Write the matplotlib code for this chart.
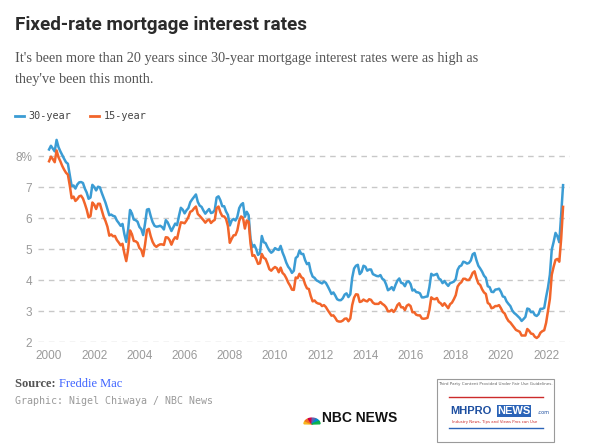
import pandas as pd
import matplotlib.pyplot as plt
from matplotlib.patches import Rectangle, Wedge

# Freddie Mac fixed-rate mortgage averages, monthly, Jan 2000 - Oct 2022 (percent)
rate_30 = [
    8.21, 8.33, 8.24, 8.15, 8.52, 8.29, 8.15, 8.03, 7.91, 7.80, 7.75, 7.38,  # 2000
    7.03, 7.05, 6.95, 7.08, 7.15, 7.16, 7.13, 6.95, 6.82, 6.62, 6.66, 7.07,  # 2001
    7.00, 6.89, 7.01, 6.99, 6.81, 6.65, 6.49, 6.29, 6.09, 6.11, 6.07, 6.05,  # 2002
    5.92, 5.84, 5.75, 5.81, 5.48, 5.23, 5.63, 6.26, 6.15, 5.95, 5.93, 5.88,  # 2003
    5.71, 5.64, 5.45, 5.83, 6.27, 6.29, 6.06, 5.87, 5.75, 5.72, 5.73, 5.75,  # 2004
    5.71, 5.63, 5.93, 5.86, 5.72, 5.58, 5.70, 5.82, 5.77, 6.07, 6.33, 6.27,  # 2005
    6.15, 6.25, 6.32, 6.51, 6.60, 6.68, 6.76, 6.52, 6.40, 6.36, 6.24, 6.14,  # 2006
    6.22, 6.29, 6.16, 6.18, 6.26, 6.66, 6.70, 6.57, 6.38, 6.38, 6.21, 6.10,  # 2007
    5.76, 5.92, 5.97, 5.92, 6.04, 6.32, 6.43, 6.48, 6.04, 6.20, 6.09, 5.33,  # 2008
    5.06, 5.13, 5.00, 4.81, 4.86, 5.42, 5.22, 5.19, 5.06, 4.95, 4.88, 4.93,  # 2009
    5.03, 4.99, 4.97, 5.10, 4.89, 4.74, 4.56, 4.43, 4.35, 4.23, 4.30, 4.71,  # 2010
    4.76, 4.95, 4.84, 4.84, 4.64, 4.51, 4.55, 4.27, 4.11, 4.07, 3.99, 3.96,  # 2011
    3.92, 3.89, 3.95, 3.91, 3.80, 3.68, 3.55, 3.60, 3.50, 3.38, 3.35, 3.35,  # 2012
    3.41, 3.53, 3.57, 3.45, 3.54, 4.07, 4.37, 4.46, 4.49, 4.19, 4.26, 4.46,  # 2013
    4.43, 4.30, 4.34, 4.34, 4.19, 4.16, 4.13, 4.12, 4.16, 4.04, 4.00, 3.86,  # 2014
    3.67, 3.71, 3.77, 3.67, 3.84, 3.98, 4.05, 3.91, 3.89, 3.80, 3.94, 3.96,  # 2015
    3.87, 3.66, 3.69, 3.61, 3.60, 3.57, 3.44, 3.44, 3.46, 3.47, 3.77, 4.20,  # 2016
    4.15, 4.17, 4.20, 4.05, 4.01, 3.90, 3.97, 3.88, 3.81, 3.90, 3.92, 3.95,  # 2017
    4.03, 4.33, 4.44, 4.47, 4.59, 4.57, 4.53, 4.55, 4.63, 4.83, 4.87, 4.64,  # 2018
    4.46, 4.37, 4.27, 4.14, 4.07, 3.80, 3.77, 3.62, 3.61, 3.69, 3.70, 3.72,  # 2019
    3.62, 3.47, 3.45, 3.31, 3.23, 3.16, 3.02, 2.94, 2.89, 2.83, 2.77, 2.68,  # 2020
    2.74, 2.81, 3.08, 3.06, 2.96, 2.98, 2.87, 2.84, 2.90, 3.07, 3.07, 3.10,  # 2021
    3.45, 3.76, 4.17, 4.98, 5.23, 5.52, 5.41, 5.22, 6.11, 7.06,              # 2022
]
rate_15 = [
    7.83, 7.98, 7.90, 7.80, 8.18, 7.96, 7.83, 7.68, 7.56, 7.46, 7.40, 7.05,  # 2000
    6.64, 6.69, 6.55, 6.61, 6.70, 6.72, 6.63, 6.46, 6.27, 6.02, 6.06, 6.50,  # 2001
    6.43, 6.29, 6.46, 6.46, 6.25, 6.04, 5.90, 5.72, 5.43, 5.47, 5.41, 5.42,  # 2002
    5.29, 5.21, 5.12, 5.17, 4.86, 4.61, 4.98, 5.60, 5.48, 5.26, 5.25, 5.20,  # 2003
    5.03, 4.97, 4.77, 5.15, 5.61, 5.65, 5.41, 5.23, 5.12, 5.07, 5.12, 5.15,  # 2004
    5.15, 5.13, 5.38, 5.37, 5.29, 5.14, 5.29, 5.38, 5.33, 5.61, 5.86, 5.85,  # 2005
    5.83, 5.92, 6.03, 6.20, 6.23, 6.31, 6.37, 6.13, 6.07, 6.00, 5.93, 5.85,  # 2006
    5.92, 5.95, 5.84, 5.90, 5.94, 6.32, 6.37, 6.18, 6.06, 6.05, 5.97, 5.74,  # 2007
    5.20, 5.33, 5.44, 5.45, 5.60, 5.91, 6.05, 6.01, 5.66, 5.92, 5.88, 5.18,  # 2008
    4.78, 4.80, 4.68, 4.52, 4.54, 4.84, 4.72, 4.68, 4.53, 4.35, 4.30, 4.37,  # 2009
    4.42, 4.38, 4.25, 4.40, 4.23, 4.17, 4.06, 3.92, 3.82, 3.69, 3.68, 4.08,  # 2010
    4.06, 4.20, 4.09, 4.05, 3.86, 3.73, 3.71, 3.48, 3.31, 3.34, 3.27, 3.24,  # 2011
    3.23, 3.16, 3.19, 3.13, 3.03, 2.94, 2.85, 2.86, 2.78, 2.68, 2.66, 2.66,  # 2012
    2.69, 2.75, 2.76, 2.67, 2.76, 3.19, 3.43, 3.54, 3.53, 3.29, 3.31, 3.37,  # 2013
    3.33, 3.31, 3.38, 3.36, 3.27, 3.23, 3.23, 3.23, 3.29, 3.23, 3.19, 3.12,  # 2014
    2.99, 2.99, 3.04, 2.97, 3.05, 3.19, 3.25, 3.12, 3.12, 3.03, 3.17, 3.21,  # 2015
    3.16, 2.96, 2.96, 2.88, 2.86, 2.86, 2.76, 2.75, 2.76, 2.78, 3.03, 3.44,  # 2016
    3.39, 3.38, 3.42, 3.29, 3.25, 3.17, 3.25, 3.17, 3.09, 3.22, 3.27, 3.38,  # 2017
    3.51, 3.79, 3.88, 3.93, 4.04, 4.04, 4.00, 4.00, 4.09, 4.23, 4.28, 4.06,  # 2018
    3.89, 3.84, 3.70, 3.60, 3.55, 3.26, 3.22, 3.09, 3.11, 3.16, 3.16, 3.19,  # 2019
    3.09, 2.97, 2.92, 2.78, 2.68, 2.63, 2.55, 2.47, 2.39, 2.36, 2.33, 2.21,  # 2020
    2.21, 2.21, 2.42, 2.36, 2.27, 2.26, 2.17, 2.13, 2.18, 2.30, 2.35, 2.38,  # 2021
    2.62, 3.01, 3.39, 4.17, 4.43, 4.65, 4.68, 4.59, 5.33, 6.36,              # 2022
]
dates = pd.date_range('2000-01-01', periods=len(rate_30), freq='MS')
years = dates.year + (dates.month - 1) / 12

x_ticks = list(range(2000, 2023, 2))
y_ticks = [2, 3, 4, 5, 6, 7, 8]
y_labels = ['2', '3', '4', '5', '6', '7', '8%']

blue = '#3b9cd4'
orange = '#f2652a'
gray = '#9a9a9a'

fig = plt.figure(figsize=(6.03, 4.44), dpi=100)
ax = fig.add_axes([0.063, 0.2297, 0.882, 0.4678])

for y in y_ticks:
    ax.axhline(y, color='#c8c8c8', lw=1, ls=(0, (4, 3.5)), zorder=0)

ax.plot(years, rate_30, color=blue, lw=1.8, solid_joinstyle='round')
ax.plot(years, rate_15, color=orange, lw=1.8, solid_joinstyle='round')

ax.set_xlim(1999.51, 2023.05)
ax.set_ylim(2, 8.7)
ax.set_xticks(x_ticks)
ax.set_xticklabels([str(t) for t in x_ticks])
ax.set_yticks(y_ticks)
ax.set_yticklabels(y_labels)
ax.tick_params(length=0, labelsize=8.5, labelcolor=gray)
ax.tick_params(axis='x', pad=6)
ax.tick_params(axis='y', pad=4)
for lab in ax.get_xticklabels() + ax.get_yticklabels():
    lab.set_family('Liberation Sans')
for s in ax.spines.values():
    s.set_visible(False)

# ------------------- Header ------------------- #
fig.text(15 / 603, 1 - 30 / 444, 'Fixed-rate mortgage interest rates',
         family=['Liberation Sans Narrow', 'Roboto'], weight='bold',
         fontsize=13.6, color='#2b2b2b', va='baseline')
fig.text(15 / 603, 1 - 62 / 444,
         "It's been more than 20 years since 30-year mortgage interest rates were as high as",
         family='Liberation Serif', fontsize=10.3, color='#555555', va='baseline')
fig.text(15 / 603, 1 - 83 / 444, "they've been this month.",
         family='Liberation Serif', fontsize=10.3, color='#555555', va='baseline')

# legend
fig.add_artist(plt.Line2D([15 / 603, 24 / 603], [1 - 116 / 444] * 2, color=blue, lw=2))
fig.text(28 / 603, 1 - 116 / 444, '30-year', family='DejaVu Sans Mono',
         fontsize=7.3, color='#444444', va='center')
fig.add_artist(plt.Line2D([90 / 603, 99 / 603], [1 - 116 / 444] * 2, color=orange, lw=2))
fig.text(104 / 603, 1 - 116 / 444, '15-year', family='DejaVu Sans Mono',
         fontsize=7.3, color='#444444', va='center')

# ------------------- Footer ------------------- #
src = fig.text(15 / 603, 1 - 387 / 444, 'Source: ', family='Liberation Serif',
               weight='bold', fontsize=9, color='#555555', va='baseline')
fig.canvas.draw()
bb = src.get_window_extent()
fig.text(bb.x1 / 603, 1 - 387 / 444, 'Freddie Mac', family='Liberation Serif',
         fontsize=9, color='#3d63ff', va='baseline')
fig.text(15 / 603, 1 - 404 / 444, 'Graphic: Nigel Chiwaya / NBC News',
         family='DejaVu Sans Mono', fontsize=7.2, color=gray, va='baseline')

# NBC News logo
peacock = ['#f7b51b', '#f37021', '#cc004c', '#6460aa', '#0089d0', '#0db14b']
cx, cy = 312, 424
for i, c in enumerate(peacock):
    a0 = 180 - i * 30
    fig.add_artist(Wedge((cx / 603, 1 - cy / 444), 8 / 603, a0 - 28, a0 - 2,
                         color=c, transform=fig.transFigure))
fig.text(322 / 603, 1 - 418 / 444, 'NBC NEWS', family='Liberation Sans',
         weight='bold', fontsize=10, color='#111111', va='center')

# MHProNews watermark box
fig.add_artist(Rectangle((437 / 603, 1 - 442 / 444), 117 / 603, 63 / 444,
                         transform=fig.transFigure, fc='white', ec='#9a9a9a', lw=0.8))
fig.text(495 / 603, 1 - 384 / 444, 'Third Party Content Provided Under Fair Use Guidelines.',
         fontsize=3, color='#666666', ha='center', va='center')
fig.add_artist(plt.Line2D([449 / 603, 543 / 603], [1 - 397 / 444] * 2, color='#cc2b2b', lw=1))
fig.text(471 / 603, 1 - 411 / 444, 'MHPRO', family='Liberation Sans', weight='bold',
         fontsize=8, color='#1d4fa0', ha='center', va='center')
fig.text(514 / 603, 1 - 411 / 444, 'NEWS', family='Liberation Sans', weight='bold',
         fontsize=8, color='white', ha='center', va='center',
         bbox=dict(fc='#2b64b8', ec='none', pad=0.5))
fig.text(537 / 603, 1 - 412 / 444, '.com', fontsize=3.5, color='#1d4fa0', va='center')
fig.text(495 / 603, 1 - 422 / 444, 'Industry News, Tips and Views Pros can Use',
         fontsize=2.8, color='#cc2b2b', ha='center', va='center')
fig.add_artist(plt.Line2D([449 / 603, 543 / 603], [1 - 428 / 444] * 2, color='#2b64b8', lw=1))

fig.savefig('out.png', dpi=100)
